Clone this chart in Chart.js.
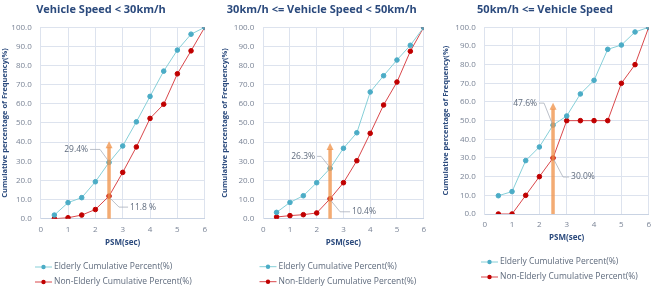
<!DOCTYPE html>
<html>
<head>
<meta charset="utf-8">
<script src="https://cdn.jsdelivr.net/npm/chart.js@4"></script>
<style>
  body { margin: 0; width: 658px; height: 288px; overflow: hidden; background: #fff; position: relative; }
  .panel { position: absolute; top: 0; width: 220px; height: 288px; }
</style>
</head>
<body>
<div class="panel" style="left:-7px"><canvas id="c1" width="220" height="288"></canvas></div>
<div class="panel" style="left:211.5px"><canvas id="c2" width="220" height="288"></canvas></div>
<div class="panel" style="left:437px"><canvas id="c3" width="220" height="288"></canvas></div>
<script>
// PSM (sec) categories shared by all three panels
const psm = [0.5, 1, 1.5, 2, 2.5, 3, 3.5, 4, 4.5, 5, 5.5, 6];

// Vehicle speed < 30km/h
const elderlySlow    = [1.9, 8.4, 11.0, 19.3, 29.4, 38.0, 50.6, 63.9, 77.1, 88.1, 96.4, 100];
const nonElderlySlow = [0, 0.5, 1.9, 4.8, 11.8, 24.2, 37.5, 52.4, 59.8, 75.7, 87.7, 100];

// 30km/h <= vehicle speed < 50km/h
const elderlyMid    = [3.3, 8.5, 12.0, 18.8, 26.3, 36.8, 44.9, 66.2, 74.7, 82.9, 90.6, 100];
const nonElderlyMid = [0.9, 1.6, 2.1, 3.0, 10.4, 18.8, 30.3, 44.6, 59.4, 71.4, 87.5, 100];

// 50km/h <= vehicle speed
const elderlyFast    = [9.8, 12.0, 28.6, 35.9, 47.6, 52.5, 64.3, 71.6, 88.2, 90.5, 97.5, 100];
const nonElderlyFast = [0, 0, 10, 20, 30, 50, 50, 50, 50, 70, 80, 100];

const titles = ['Vehicle Speed < 30km/h', '30km/h <= Vehicle Speed < 50km/h', '50km/h <= Vehicle Speed'];
const seriesNames = ['Elderly Cumulative Percent(%)', 'Non-Elderly Cumulative Percent(%)'];
const thresholdPsm = 2.5;
const arrowTops = [40, 39, 59];
const thresholdLabels = [['29.4%', '11.8 %'], ['26.3%', '10.4%'], ['47.6%', '30.0%']];

const elderlyBySpeed = [elderlySlow, elderlyMid, elderlyFast];
const nonElderlyBySpeed = [nonElderlySlow, nonElderlyMid, nonElderlyFast];

// layout per panel (canvas coordinates)
const layouts = [
  { yWidth: 47.7, padRight: 4, padBottom: 32.3, yTitlePad: 7, legendX: 42, legendY: 267,
    up: [-21, -13], low: [21, 11] },
  { yWidth: 51.2, padRight: 0.5, padBottom: 32.3, yTitlePad: 8.5, legendX: 47.5, legendY: 266.7,
    up: [-15, -12], low: [22, 13] },
  { yWidth: 47.7, padRight: 4, padBottom: 37, yTitlePad: 4, legendX: 44, legendY: 262,
    up: [-16, -22], low: [18, 19] }
];

const FONT = "'Open Sans', 'Noto Sans', sans-serif";
const navy = '#2b4a7d';
const tickGray = '#7a8496';
const teal = '#4bacc6', tealLine = '#86cfd8';
const red = '#c00000', redLine = '#d9474b';

function toPoints(values) {
  return psm.map((x, i) => ({ x: x, y: values[i] }));
}

// orange arrow at the threshold PSM plus the two value callouts
const thresholdPlugin = {
  id: 'threshold',
  afterDatasetsDraw(chart, args, opts) {
    const ctx = chart.ctx;
    const xs = chart.scales.x, ys = chart.scales.y;
    const px = xs.getPixelForValue(thresholdPsm);
    const y0 = ys.getPixelForValue(0);
    const yTop = ys.getPixelForValue(opts.top);
    ctx.save();
    ctx.strokeStyle = 'rgba(240,150,80,0.8)';
    ctx.fillStyle = 'rgba(240,150,80,0.8)';
    ctx.lineWidth = 3.5;
    ctx.beginPath();
    ctx.moveTo(px, y0);
    ctx.lineTo(px, yTop + 5);
    ctx.stroke();
    ctx.beginPath();
    ctx.moveTo(px, yTop - 1);
    ctx.lineTo(px - 3.5, yTop + 6);
    ctx.lineTo(px + 3.5, yTop + 6);
    ctx.closePath();
    ctx.fill();

    const idx = psm.indexOf(thresholdPsm);
    ctx.font = '8.5px ' + FONT;
    ctx.textBaseline = 'middle';
    ctx.lineWidth = 0.8;
    ctx.strokeStyle = '#a9b0bb';
    ctx.fillStyle = '#5f6b7d';
    // upper (elderly) label to the left
    let py = ys.getPixelForValue(chart.data.datasets[0].data[idx].y);
    let tx = px + opts.up[0], ty = py + opts.up[1];
    ctx.beginPath();
    ctx.moveTo(px - 1, py - 2);
    ctx.lineTo(px - 9, ty);
    ctx.lineTo(tx + 2, ty);
    ctx.stroke();
    ctx.textAlign = 'right';
    ctx.fillText(opts.labels[0], tx, ty);
    // lower (non-elderly) label to the right
    py = ys.getPixelForValue(chart.data.datasets[1].data[idx].y);
    tx = px + opts.low[0]; ty = py + opts.low[1];
    ctx.beginPath();
    ctx.moveTo(px + 1, py + 2);
    ctx.lineTo(px + 10, ty);
    ctx.lineTo(tx - 2, ty);
    ctx.stroke();
    ctx.textAlign = 'left';
    ctx.fillText(opts.labels[1], tx, ty);
    ctx.restore();
  }
};

// stacked legend, left aligned under the plot
const stackedLegend = {
  id: 'stackedLegend',
  afterDraw(chart, args, opts) {
    const ctx = chart.ctx;
    ctx.save();
    ctx.font = '8.5px ' + FONT;
    ctx.textBaseline = 'middle';
    ctx.textAlign = 'left';
    chart.data.datasets.forEach((ds, i) => {
      const y = opts.y + i * 15;
      const x = opts.x;
      ctx.strokeStyle = ds.borderColor;
      ctx.lineWidth = 1;
      ctx.beginPath();
      ctx.moveTo(x, y);
      ctx.lineTo(x + 17, y);
      ctx.stroke();
      ctx.fillStyle = ds.pointBackgroundColor;
      ctx.beginPath();
      ctx.arc(x + 8.5, y, 2.2, 0, Math.PI * 2);
      ctx.fill();
      ctx.fillStyle = '#5f6b7d';
      ctx.fillText(ds.label, x + 19, y);
    });
    ctx.restore();
  }
};

function makeChart(canvasId, p) {
  const L = layouts[p];
  return new Chart(document.getElementById(canvasId), {
    type: 'line',
    data: {
      datasets: [
        { label: seriesNames[0], data: toPoints(elderlyBySpeed[p]), borderColor: tealLine, borderWidth: 1,
          pointBackgroundColor: teal, pointBorderColor: teal, pointRadius: 2.3 },
        { label: seriesNames[1], data: toPoints(nonElderlyBySpeed[p]), borderColor: redLine, borderWidth: 1,
          pointBackgroundColor: red, pointBorderColor: red, pointRadius: 2.3 }
      ]
    },
    options: {
      responsive: false,
      animation: false,
      layout: { padding: { left: 0, right: L.padRight, top: 0, bottom: L.padBottom } },
      plugins: {
        legend: { display: false },
        tooltip: { enabled: false },
        title: {
          display: true, text: titles[p], color: navy,
          font: { family: FONT, size: 11, weight: 'bold' },
          padding: { top: 3.5, bottom: 10.6 }
        },
        threshold: { top: arrowTops[p], labels: thresholdLabels[p], up: L.up, low: L.low },
        stackedLegend: { x: L.legendX, y: L.legendY }
      },
      scales: {
        x: {
          type: 'linear', min: 0, max: 6,
          ticks: { stepSize: 1, color: tickGray, font: { family: FONT, size: 8 }, padding: 6 },
          grid: { color: '#dde3ee', drawTicks: false },
          border: { color: '#c9d3e3' },
          title: { display: true, text: 'PSM(sec)', color: navy, font: { family: FONT, size: 8, weight: 'bold' },
                   padding: { top: 0, bottom: 8 } },
          afterFit(scale) { scale.height = 37; }
        },
        y: {
          min: 0, max: 100,
          ticks: { stepSize: 10, color: tickGray, font: { family: FONT, size: 8 }, padding: 9,
                   callback: v => v.toFixed(1) },
          grid: { color: '#dde3ee', drawTicks: false },
          border: { color: '#dde3ee' },
          title: { display: true, text: 'Cumulative percentage of Frequency(%)', color: navy,
                   font: { family: FONT, size: 7.5, weight: 'bold' }, padding: { top: L.yTitlePad, bottom: 0 } },
          afterFit(scale) { scale.width = L.yWidth; }
        }
      }
    },
    plugins: [thresholdPlugin, stackedLegend]
  });
}

makeChart('c1', 0);
makeChart('c2', 1);
makeChart('c3', 2);
</script>
</body>
</html>
